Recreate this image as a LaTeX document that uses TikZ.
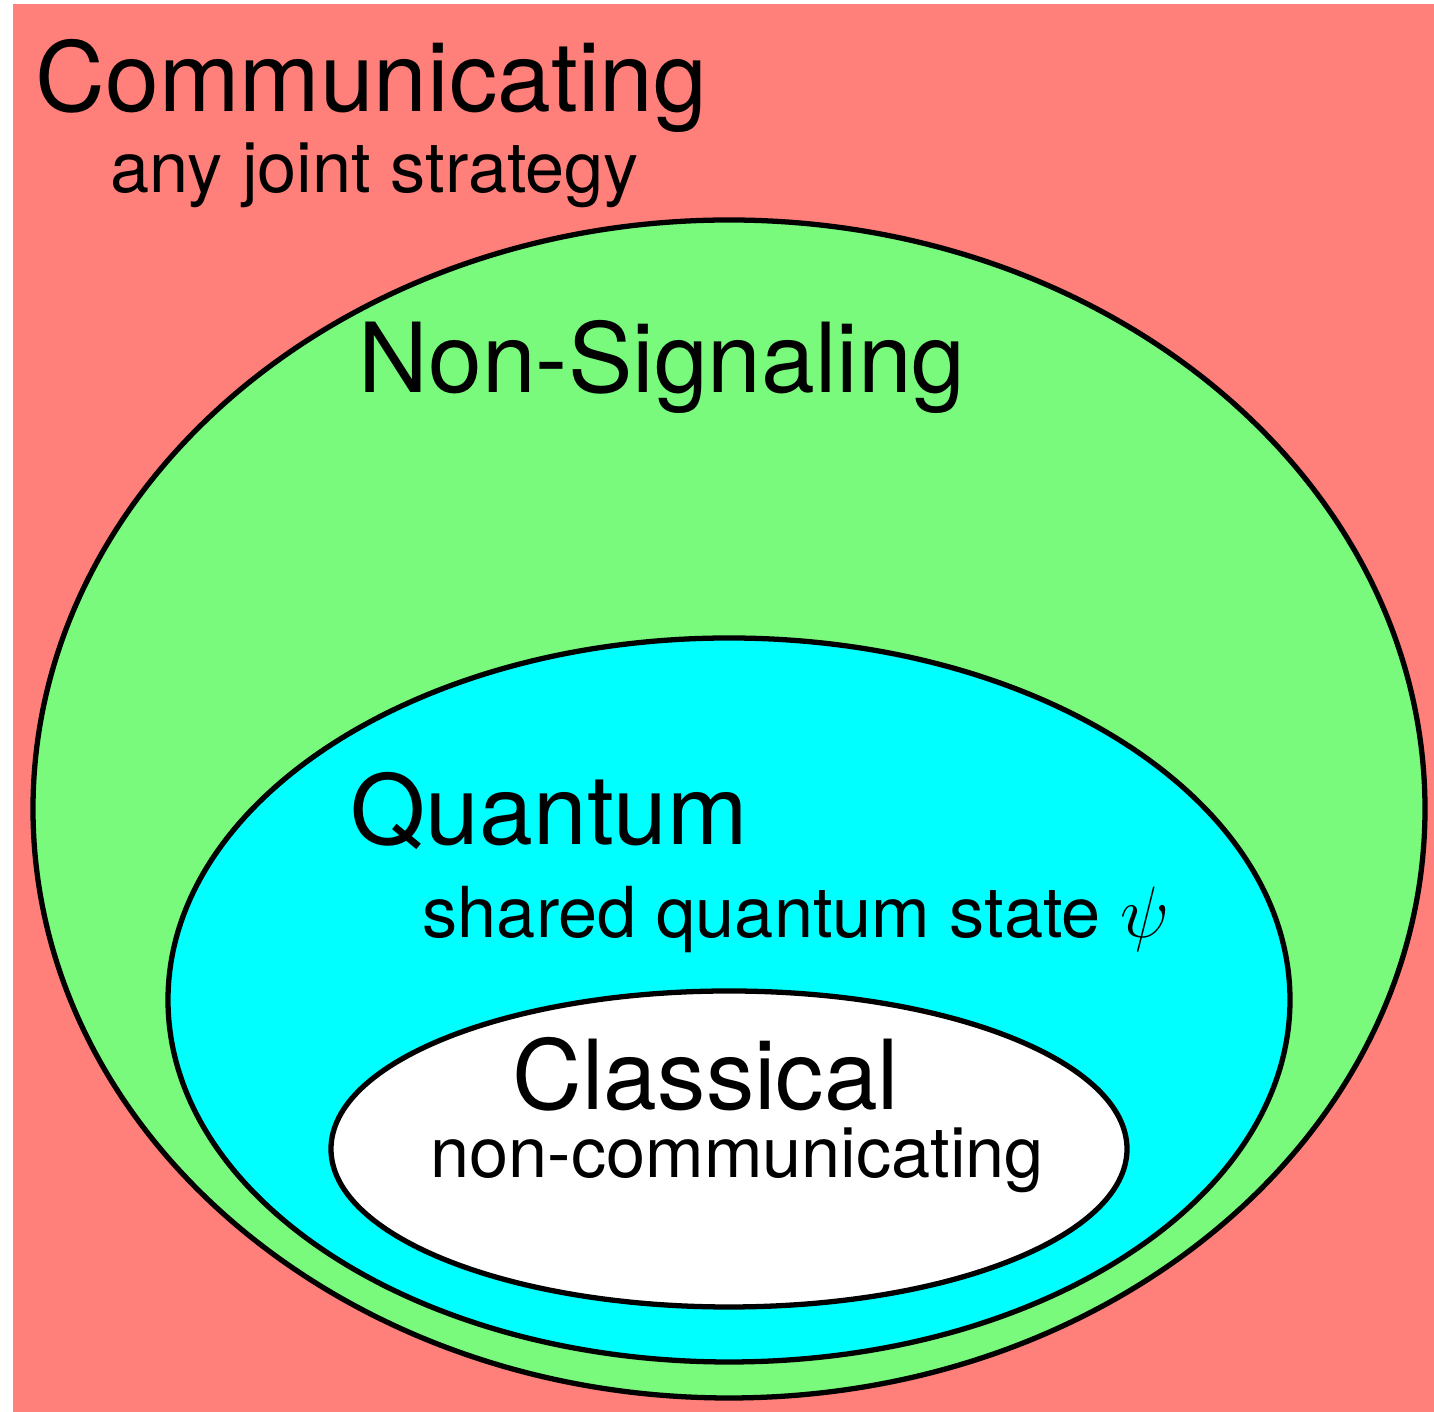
\documentclass[tikz,border=0pt]{standalone}
\usepackage{fontspec}
\setmainfont{TeX Gyre Heros}
\definecolor{commred}{RGB}{255,128,122}
\definecolor{nsgreen}{RGB}{121,250,124}
\definecolor{qcyan}{RGB}{0,255,255}
\begin{document}
\begin{tikzpicture}
   [big/.style={font=\fontsize{27.5}{30}\selectfont,anchor=base west,inner sep=0pt},
    small/.style={font=\fontsize{20}{24}\selectfont,anchor=base west,inner sep=0pt},
    set/.style={draw=black,line width=1.5pt}]
   \useasboundingbox (0,0) rectangle (14.34,14.12);
   \fill[commred] (0.13,0) rectangle (14.34,14.08);

   % the nested sets
   \filldraw[set,fill=nsgreen] (7.29,6.03) ellipse [x radius=6.96,y radius=5.89];
   \filldraw[set,fill=qcyan] (7.29,4.12) ellipse [x radius=5.61,y radius=3.62];
   \filldraw[set,fill=white] (7.29,2.63) ellipse [x radius=3.98,y radius=1.58];

   % labels
   \node[big] (comm) at (0.35,13.00) {Communicating};
   \node[small] (commsub) at (1.10,12.19) {any joint strategy};
   \node[big] (nosig) at (3.58,10.19) {Non-Signaling};
   \node[big] (quant) at (3.50,5.67) {Quantum};
   \node[small] (quantsub) at (4.22,4.74) {shared quantum state $\psi$};
   \node[big] (class) at (5.12,3.02) {Classical};
   \node[small] (classsub) at (4.30,2.34) {non-communicating};
\end{tikzpicture}
\end{document}
